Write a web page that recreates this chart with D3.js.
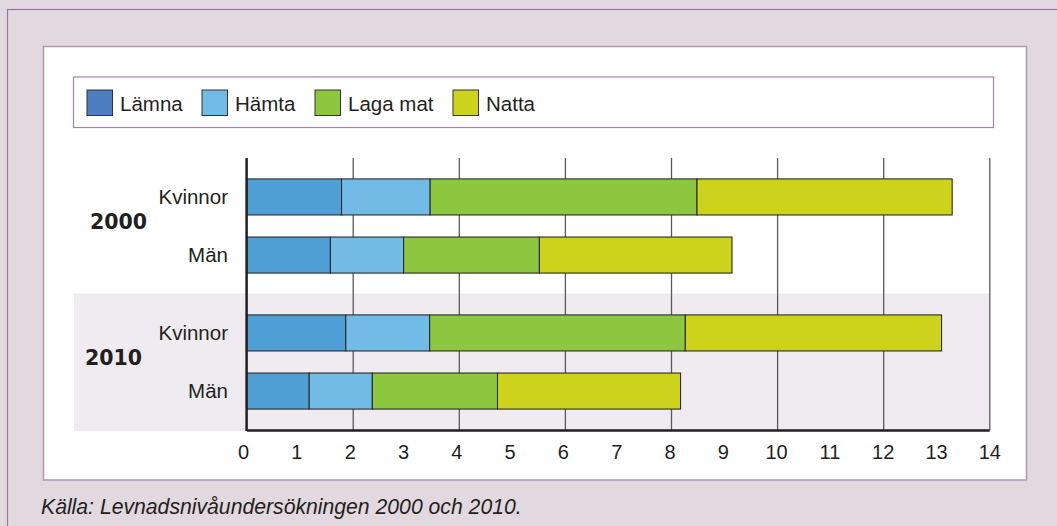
<!DOCTYPE html>
<html>
<head>
<meta charset="utf-8">
<script src="https://cdn.jsdelivr.net/npm/d3@7"></script>
<style>
  html, body { margin: 0; padding: 0; background: #e2d8e0; }
  svg { display: block; }
  text { font-family: "Liberation Sans", Arial, sans-serif; fill: #231f20; }
</style>
</head>
<body>
<svg id="chart" width="1057" height="526"></svg>
<script>
// ---- data ----
const years = ["2000", "2010"];
const groups = ["Kvinnor", "Män"];
const seriesNames = ["Lämna", "Hämta", "Laga mat", "Natta"];
// segment values (hours per week), per row, in seriesNames order
const lamna = [1.79, 1.58, 1.87, 1.18];
const hamta = [1.67, 1.38, 1.58, 1.19];
const lagaMat = [5.03, 2.56, 4.82, 2.36];
const natta = [4.81, 3.63, 4.83, 3.45];
const rowYears = ["2000", "2000", "2010", "2010"];
const rowGroups = ["Kvinnor", "Män", "Kvinnor", "Män"];
const tickValues = [0, 1, 2, 3, 4, 5, 6, 7, 8, 9, 10, 11, 12, 13, 14];
const gridValues = [2, 4, 6, 8, 10, 12, 14];
const sourceText = "Källa: Levnadsnivåundersökningen 2000 och 2010.";

// ---- styles ----
const barColors = ["#4f9fd5", "#72bbe6", "#8dc63f", "#cdd31c"];
const legendColors = ["#4d7ebf", "#72bbe6", "#8dc63f", "#cdd31c"];

const rows = rowYears.map((y, i) => ({
  year: y, group: rowGroups[i],
  values: [lamna[i], hamta[i], lagaMat[i], natta[i]]
}));
const table = rows.map(r => {
  const o = { year: r.year, group: r.group };
  seriesNames.forEach((s, k) => o[s] = r.values[k]);
  return o;
});
const stacked = d3.stack().keys(seriesNames)(table);

const svg = d3.select("#chart");

// outer frame
svg.append("rect").attr("x", 7.5).attr("y", 9.5).attr("width", 1070).attr("height", 540)
  .attr("fill", "#e2d8e0").attr("stroke", "#9a7898").attr("stroke-width", 1.2);
// white panel
svg.append("rect").attr("x", 43.5).attr("y", 46.5).attr("width", 983).attr("height", 433.5)
  .attr("fill", "#ffffff").attr("stroke", "#b395b0").attr("stroke-width", 1.5);

// scales
const x = d3.scaleLinear().domain([0, 14]).range([246.6, 989.3]);
const yYear = d3.scaleBand().domain(years).range([158, 430]).padding(0);
const yGroup = d3.scaleBand().domain(groups).range([0, yYear.bandwidth()])
  .paddingInner(0.38).paddingOuter(0.36);
const rowY = d => yYear(d.year) + yGroup(d.group);

// shaded 2010 band
svg.append("rect")
  .attr("x", 74).attr("y", yYear("2010") - 0.5)
  .attr("width", x(14) - 74).attr("height", yYear.bandwidth() + 1.5)
  .attr("fill", "#f0ebf0");

// legend box
const legend = svg.append("g");
legend.append("rect").attr("x", 73.5).attr("y", 77).attr("width", 920).attr("height", 50.5)
  .attr("fill", "#ffffff").attr("stroke", "#a582a3").attr("stroke-width", 1.2);
const legendX = [87, 202, 315, 453];
seriesNames.forEach((s, k) => {
  legend.append("rect").attr("x", legendX[k]).attr("y", 90).attr("width", 25.5).attr("height", 25.5)
    .attr("fill", legendColors[k]).attr("stroke", "#333").attr("stroke-width", 1);
  legend.append("text").attr("x", legendX[k] + 33).attr("y", 111)
    .attr("font-size", 20.5).text(s);
});

// gridlines
svg.append("g")
  .attr("transform", "translate(0,430)")
  .call(d3.axisBottom(x).tickValues(gridValues).tickSize(-(430 - 158)).tickFormat(""))
  .call(g => g.select(".domain").remove())
  .call(g => g.selectAll(".tick line").attr("stroke", "#5a5a5a").attr("stroke-width", 1.3));

// bars
svg.append("g").selectAll("g").data(stacked).join("g")
  .attr("fill", (d, k) => barColors[k])
  .selectAll("rect").data(d => d).join("rect")
  .attr("x", d => x(d[0]))
  .attr("y", d => rowY(d.data))
  .attr("width", d => x(d[1]) - x(d[0]))
  .attr("height", yGroup.bandwidth())
  .attr("stroke", "#2a2a2a").attr("stroke-width", 1.1);

// x axis
svg.append("g")
  .attr("transform", "translate(0,430)")
  .call(d3.axisBottom(x).tickValues(tickValues).tickSize(0).tickPadding(15).tickFormat(d3.format("d")))
  .call(g => g.select(".domain").attr("stroke", "#231f20").attr("stroke-width", 2.5))
  .call(g => g.selectAll(".tick text").attr("font-size", 20)
    .attr("dx", d => -3.5 * (14 - d) / 14)
    .attr("font-family", "Liberation Sans, Arial, sans-serif").attr("fill", "#231f20"));
svg.append("line").attr("x1", x(0)).attr("x2", x(0)).attr("y1", 158).attr("y2", 431)
  .attr("stroke", "#231f20").attr("stroke-width", 2.5);

// category labels
svg.append("g").selectAll("text").data(rows).join("text")
  .attr("x", 228).attr("y", d => rowY(d) + yGroup.bandwidth() / 2 + 7.3)
  .attr("text-anchor", "end").attr("font-size", 20.5)
  .text(d => d.group);

// year labels
const yearX = { "2000": 90, "2010": 85 };
svg.append("g").selectAll("text").data(years).join("text")
  .attr("x", d => yearX[d])
  .attr("y", d => {
    const c1 = yYear(d) + yGroup("Kvinnor") + yGroup.bandwidth() / 2;
    const c2 = yYear(d) + yGroup("Män") + yGroup.bandwidth() / 2;
    return (c1 + c2) / 2 + 2.5;
  })
  .attr("font-weight", "bold").attr("font-size", 20.5)
  .style("font-family", "'DejaVu Sans', Verdana, sans-serif")
  .text(d => d);

// source
svg.append("text").attr("x", 41).attr("y", 514)
  .attr("font-size", 21.2).attr("font-style", "italic").text(sourceText);
</script>
</body>
</html>
